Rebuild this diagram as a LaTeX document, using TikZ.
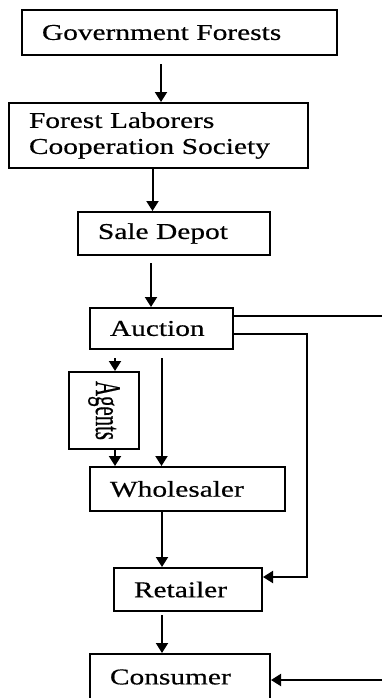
\documentclass[tikz,border=0pt]{standalone}
\usepackage{fontspec}
\setmainfont{Liberation Serif}[FakeStretch=1.3, FakeBold=0.5]
\newfontfamily\agentsfont{Liberation Serif}[FakeBold=0.5]
\usetikzlibrary{arrows.meta}

\begin{document}
\begin{tikzpicture}[x=0.5pt, y=-0.5pt, font=\fontsize{11.3}{13}\selectfont, box/.style={draw, line width=1pt, anchor=north west, align=left, inner xsep=10pt, inner ysep=0pt}, arr/.style={-{Triangle[length=5pt, width=6pt]}, line width=1pt}, rail/.style={line width=1pt}]
\useasboundingbox (0,0) rectangle (382,698);
\node[box, text width=137.5pt, minimum height=22.5pt] (gov) at (21,9) {Government Forests};
\node[box, text width=129.5pt, minimum height=32.5pt] (flcs) at (8,102) {Forest Laborers\\Cooperation Society};
\node[box, text width=76pt, minimum height=21.5pt] (depot) at (77,211) {Sale Depot};
\node[box, text width=51.5pt, minimum height=20.5pt] (auction) at (89,307) {Auction};
\node[box, inner xsep=0pt, align=center, minimum width=35pt, minimum height=38.5pt] (agents) at (68,371) {\rotatebox{-90}{\scalebox{0.92}[1.6]{\agentsfont Agents}}};
\node[box, text width=77.5pt, minimum height=22pt] (whole) at (89,466) {Wholesaler};
\node[box, text width=54pt, minimum height=21.5pt] (retail) at (113,567) {Retailer};
\node[box, text width=70pt, minimum height=23pt] (consumer) at (89,653) {Consumer};
\coordinate (edgeA) at (382,316);
\coordinate (rail) at (307,334);
\coordinate (edgeC) at (382,680);
% main chain
\draw[arr] ([xshift=-9.25pt, yshift=-4pt]gov.south) -- ([xshift=-9.25pt]gov.south |- flcs.north);
\draw[arr] ([xshift=-3pt]flcs.south) -- ([xshift=-3pt]flcs.south |- depot.north);
\draw[arr] ([xshift=-11.5pt, yshift=-3.5pt]depot.south) -- ([xshift=-11.5pt]depot.south |- auction.north);
\draw[arr, shorten <=4pt] ([xshift=5.5pt]agents.north |- auction.south) -- ([xshift=5.5pt]agents.north);
\draw[arr] ([xshift=5.5pt]agents.south) -- ([xshift=5.5pt]agents.south |- whole.north);
\draw[arr, shorten <=4pt] (auction.south) -- (auction.south |- whole.north);
\draw[arr] ([xshift=-12.75pt]whole.south) -- ([xshift=-12.75pt]whole.south |- retail.north);
\draw[arr, shorten <=1.5pt] ([xshift=-13pt]retail.south) -- ([xshift=-13pt]retail.south |- consumer.north);
% side routes
\draw[rail] (edgeA -| auction.east) -- (edgeA);
\draw[arr] (rail -| auction.east) -- (rail) |- ([yshift=6.25pt]retail.east);
\draw[arr] (edgeC) -- (edgeC -| consumer.east);
\end{tikzpicture}
\end{document}
